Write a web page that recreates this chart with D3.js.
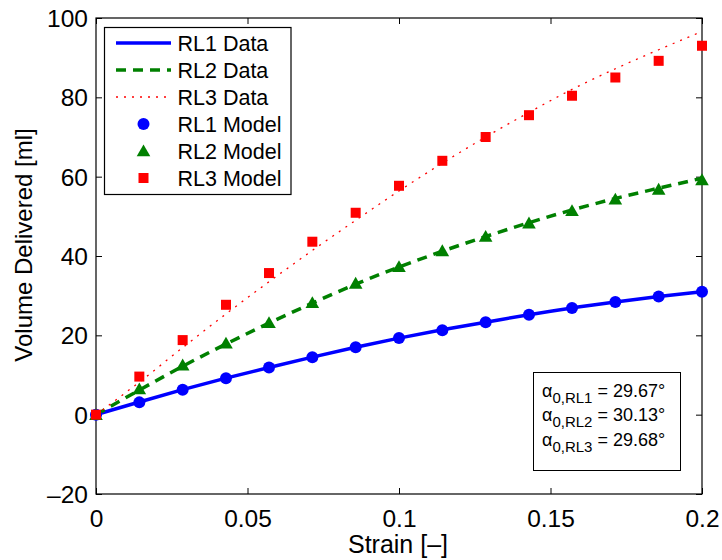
<!DOCTYPE html>
<html>
<head>
<meta charset="utf-8">
<script src="https://cdn.jsdelivr.net/npm/d3@7"></script>
<style>
  html, body { margin: 0; padding: 0; background: #fff; }
  svg { display: block; font-family: "Liberation Sans", Arial, sans-serif; }
</style>
</head>
<body>
<svg id="chart" width="722" height="560"></svg>
<script>
// ---- data ----
const strain = [0, 0.0143, 0.0286, 0.0429, 0.0571, 0.0714, 0.0857, 0.1, 0.1143, 0.1286, 0.1429, 0.1571, 0.1714, 0.1857, 0.2];
const rl1Data  = [0, 3.2, 6.3, 9.2, 11.9, 14.5, 17.0, 19.3, 21.4, 23.3, 25.2, 26.9, 28.4, 29.8, 31.0];
const rl2Data  = [0, 6.2, 12.2, 17.8, 23.1, 28.1, 32.9, 37.2, 41.2, 44.9, 48.4, 51.6, 54.5, 57.1, 59.6];
const rl3Data  = [0, 8.2, 16.9, 25.4, 33.5, 41.4, 49.0, 56.4, 63.4, 70.0, 76.2, 82.0, 87.2, 92.0, 96.6];
const rl1Model = [0, 3.1, 6.3, 9.2, 11.9, 14.5, 17.0, 19.3, 21.3, 23.3, 25.2, 26.9, 28.4, 29.8, 31.0];
const rl2Model = [0, 6.5, 12.5, 18.0, 23.2, 28.2, 33.1, 37.3, 41.3, 44.9, 48.3, 51.4, 54.3, 56.8, 59.2];
const rl3Model = [0, 9.6, 18.8, 27.7, 35.7, 43.6, 50.9, 57.7, 64.0, 70.0, 75.5, 80.4, 85.0, 89.2, 93.0];
const xTicks = [0, 0.05, 0.1, 0.15, 0.2];
const xTickLabels = ["0", "0.05", "0.1", "0.15", "0.2"];
const yTicks = [-20, 0, 20, 40, 60, 80, 100];
const yTickLabels = ["\u201320", "0", "20", "40", "60", "80", "100"];
const legendLabels = ["RL1 Data", "RL2 Data", "RL3 Data", "RL1 Model", "RL2 Model", "RL3 Model"];
const angleNames = ["0,RL1", "0,RL2", "0,RL3"];
const angleValues = ["29.67", "30.13", "29.68"];
const xLabel = "Strain [\u2013]";
const yLabel = "Volume Delivered [ml]";

// ---- layout ----
const L = 96, R = 702, T = 18, B = 494;
const blue = "#0000ff", green = "#008000", red = "#ff0000";
const svg = d3.select("#chart");
const x = d3.scaleLinear().domain([0, 0.2]).range([L, R]);
const y = d3.scaleLinear().domain([-20, 100]).range([B, T]);

// axes (ticks inward, mirrored)
const tickFont = 24.5;
const gx = svg.append("g").attr("transform", `translate(0,${B})`)
  .call(d3.axisBottom(x).tickValues(xTicks).tickSizeInner(-6).tickSizeOuter(0).tickPadding(16)
    .tickFormat((d, i) => xTickLabels[i]));
const gy = svg.append("g").attr("transform", `translate(${L},0)`)
  .call(d3.axisLeft(y).tickValues(yTicks).tickSizeInner(-6).tickSizeOuter(0).tickPadding(8)
    .tickFormat((d, i) => yTickLabels[i]));
const gt = svg.append("g").attr("transform", `translate(0,${T})`)
  .call(d3.axisTop(x).tickValues(xTicks).tickSizeInner(-6).tickSizeOuter(0).tickFormat(""));
const gr = svg.append("g").attr("transform", `translate(${R},0)`)
  .call(d3.axisRight(y).tickValues(yTicks).tickSizeInner(-6).tickSizeOuter(0).tickFormat(""));
[gx, gy, gt, gr].forEach(g => {
  g.selectAll(".domain").remove();
  g.selectAll("line").attr("stroke", "#000").attr("stroke-width", 1);
  g.selectAll("text").attr("font-size", tickFont).attr("fill", "#000")
    .attr("font-family", "'Liberation Sans', Arial, sans-serif");
});
gy.selectAll("text").attr("dy", "0.34em");

svg.append("rect").attr("x", L).attr("y", T).attr("width", R - L).attr("height", B - T)
  .attr("fill", "none").attr("stroke", "#000").attr("stroke-width", 1.2);

// axis labels
svg.append("text").attr("x", 398).attr("y", 553).attr("text-anchor", "middle")
  .attr("font-size", 25).text(xLabel);
svg.append("text").attr("transform", "translate(32,245) rotate(-90)").attr("text-anchor", "middle")
  .attr("font-size", 24).text(yLabel);

// lines
const line = d3.line().x((d, i) => x(strain[i])).y(d => y(d)).curve(d3.curveMonotoneX);
const plot = svg.append("g");
plot.append("path").datum(rl1Data).attr("d", line).attr("fill", "none")
  .attr("stroke", blue).attr("stroke-width", 3.5);
plot.append("path").datum(rl2Data).attr("d", line).attr("fill", "none")
  .attr("stroke", green).attr("stroke-width", 3.5).attr("stroke-dasharray", "10,7");
plot.append("path").datum(rl3Data).attr("d", line).attr("fill", "none")
  .attr("stroke", red).attr("stroke-width", 1.3).attr("stroke-dasharray", "2,6");

// markers
const triPath = "M0,-6.5L6.8,5.3L-6.8,5.3Z";
plot.selectAll(".m1").data(rl1Model).join("circle").attr("class", "m1")
  .attr("cx", (d, i) => x(strain[i])).attr("cy", d => y(d)).attr("r", 6).attr("fill", blue);
plot.selectAll(".m2").data(rl2Model).join("path").attr("class", "m2")
  .attr("transform", (d, i) => `translate(${x(strain[i])},${y(d)})`).attr("d", triPath).attr("fill", green);
plot.selectAll(".m3").data(rl3Model).join("rect").attr("class", "m3")
  .attr("x", (d, i) => x(strain[i]) - 5).attr("y", d => y(d) - 5)
  .attr("width", 10).attr("height", 10).attr("fill", red);

// legend
const lg = svg.append("g");
lg.append("rect").attr("x", 104.5).attr("y", 27.5).attr("width", 186.5).attr("height", 167)
  .attr("fill", "#fff").attr("stroke", "#000").attr("stroke-width", 1.2);
const rowY = i => 43 + i * 27;
const styles = [
  {c: blue, w: 3.5, dash: null},
  {c: green, w: 3.5, dash: "10,7"},
  {c: red, w: 1.3, dash: "2,6"}
];
styles.forEach((s, i) => {
  lg.append("line").attr("x1", 116).attr("x2", 171).attr("y1", rowY(i)).attr("y2", rowY(i))
    .attr("stroke", s.c).attr("stroke-width", s.w).attr("stroke-dasharray", s.dash);
});
lg.append("circle").attr("cx", 143.5).attr("cy", rowY(3)).attr("r", 6).attr("fill", blue);
lg.append("path").attr("transform", `translate(143.5,${rowY(4)})`).attr("d", triPath).attr("fill", green);
lg.append("rect").attr("x", 138.5).attr("y", rowY(5) - 5).attr("width", 10).attr("height", 10).attr("fill", red);
legendLabels.forEach((t, i) => {
  lg.append("text").attr("x", 177.5).attr("y", rowY(i)).attr("dy", "0.36em")
    .attr("font-size", 21.5).text(t);
});

// annotation box
const ab = svg.append("g");
ab.append("rect").attr("x", 533.5).attr("y", 372.5).attr("width", 147).attr("height", 98)
  .attr("fill", "#fff").attr("stroke", "#000").attr("stroke-width", 1);
angleNames.forEach((n, i) => {
  const t = ab.append("text").attr("x", 542).attr("y", 396.5 + i * 24.7).attr("font-size", 18);
  t.append("tspan").text("\u03b1");
  t.append("tspan").attr("dy", 6).attr("font-size", 15).text(n);
  t.append("tspan").attr("dy", -6).text(" = " + angleValues[i] + "\u00b0");
});
</script>
</body>
</html>
